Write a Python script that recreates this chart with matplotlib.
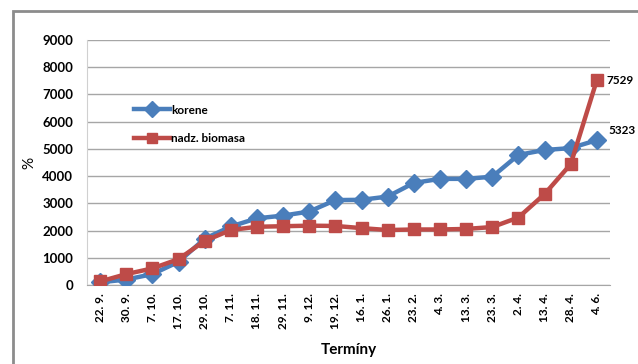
import matplotlib
matplotlib.use("Agg")
import matplotlib.pyplot as plt
from matplotlib.patches import Rectangle

plt.rcParams['font.family'] = ['Lato', 'DejaVu Sans']

terminy = ['22. 9.', '30. 9.', '7. 10.', '17. 10.', '29. 10.', '7. 11.', '18. 11.',
           '29. 11.', '9. 12.', '19. 12.', '16. 1.', '26. 1.', '23. 2.', '4. 3.',
           '13. 3.', '23. 3.', '2. 4.', '13. 4.', '28. 4.', '4. 6.']
korene = [100, 200, 400, 850, 1700, 2150, 2450, 2550, 2700, 3120, 3130, 3250,
          3750, 3900, 3900, 3980, 4780, 4960, 5030, 5323]
biomasa = [130, 400, 610, 950, 1620, 2020, 2140, 2160, 2180, 2170, 2090, 2020,
           2040, 2040, 2060, 2130, 2480, 3340, 4440, 7529]

fig = plt.figure(figsize=(6.38, 3.64), dpi=100)
ax = fig.add_axes([0.1364, 0.217, 0.8196, 0.673])

x = list(range(len(terminy)))
ax.plot(x, korene, color='#4a7ebb', lw=3.2, marker='D', ms=9.5, label='korene', zorder=3)
ax.plot(x, biomasa, color='#be4b48', lw=3.2, marker='s', ms=9, label='nadz. biomasa', zorder=4)

# hodnoty posledneho terminu
ax.annotate(str(biomasa[-1]), (x[-1], biomasa[-1]), xytext=(7, 0), textcoords='offset points',
            va='center', ha='left', fontsize=8.5, fontweight='bold', annotation_clip=False)
ax.annotate(str(korene[-1]), (x[-1], korene[-1]), xytext=(8, 7), textcoords='offset points',
            va='center', ha='left', fontsize=8.5, fontweight='bold', annotation_clip=False)

ax.set_xlim(-0.5, len(terminy) - 0.5)
ax.set_ylim(0, 9000)
ax.set_yticks(range(0, 9001, 1000))
ax.set_xticks(x)
ax.set_xticklabels(terminy, rotation=90, fontsize=8.5, fontweight='bold')
for lab in ax.get_yticklabels():
    lab.set_fontsize(9.5)
    lab.set_fontweight('bold')
ax.tick_params(axis='both', length=0)
ax.tick_params(axis='y', pad=10)
ax.tick_params(axis='x', pad=6)

ax.grid(axis='y', color='#a6a6a6', lw=1)
ax.set_axisbelow(True)
for s in ['top', 'right']:
    ax.spines[s].set_visible(False)
ax.spines['left'].set_color('#d0d0d0')
ax.spines['bottom'].set_color('#a6a6a6')

ax.set_xlabel('Termíny', fontsize=11, fontweight='bold', labelpad=10)
ax.set_ylabel('%', fontsize=11, labelpad=4)

ax.legend(loc='upper left', bbox_to_anchor=(0.07, 0.78), frameon=False,
          handlelength=3.0, handletextpad=0.1, labelspacing=1.5,
          prop={'size': 8.5, 'weight': 'bold'}, markerscale=0.85)

# ramcek grafu
fig.patches.append(Rectangle((13 / 638, -0.1), 1.2, 1 - 11 / 364 + 0.1, transform=fig.transFigure,
                             fill=False, edgecolor='#8c8c8c', lw=2))

fig.savefig('out.png', dpi=100)
